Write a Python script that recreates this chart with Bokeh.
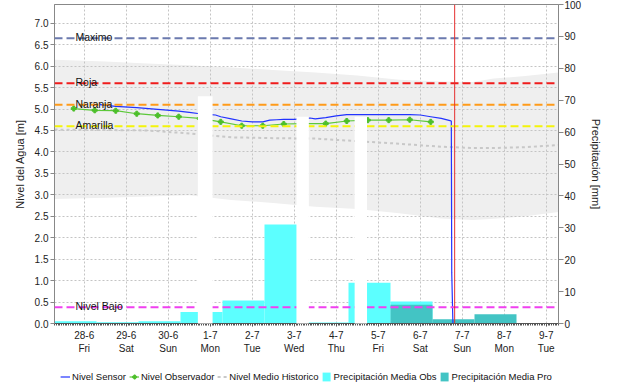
import pandas as pd
from bokeh.plotting import figure
from bokeh.layouts import column
from bokeh.models import (Range1d, LinearAxis, FixedTicker, Span, Label, BoxAnnotation,
                          Legend, LegendItem, ColumnDataSource, NumeralTickFormatter)
from bokeh.embed import file_html
from bokeh.resources import INLINE

FONT = "Liberation Sans"

# ---------------- data ----------------
x_start = "2024-06-27 07:00"
x_end = "2024-07-09 07:00"

day_ticks = ["2024-06-28", "2024-06-29", "2024-06-30", "2024-07-01", "2024-07-02", "2024-07-03",
             "2024-07-04", "2024-07-05", "2024-07-06", "2024-07-07", "2024-07-08", "2024-07-09"]
day_labels = ["28-6\nFri", "29-6\nSat", "30-6\nSun", "1-7\nMon", "2-7\nTue", "3-7\nWed",
              "4-7\nThu", "5-7\nFri", "6-7\nSat", "7-7\nSun", "8-7\nMon", "9-7\nTue"]

level_ticks = [0.0, 0.5, 1.0, 1.5, 2.0, 2.5, 3.0, 3.5, 4.0, 4.5, 5.0, 5.5, 6.0, 6.5, 7.0]
precip_ticks = [0, 10, 20, 30, 40, 50, 60, 70, 80, 90, 100]

sensor_time = ["2024-06-28 09:00", "2024-06-28 18:00", "2024-06-29 06:00", "2024-06-29 18:00",
               "2024-06-30 06:00", "2024-06-30 12:00", "2024-06-30 18:00", "2024-07-01 00:00",
               "2024-07-01 03:00", "2024-07-01 06:00", "2024-07-01 12:00", "2024-07-01 18:00",
               "2024-07-02 00:00", "2024-07-02 06:00", "2024-07-02 10:00", "2024-07-02 14:00",
               "2024-07-02 18:00", "2024-07-03 00:00", "2024-07-03 09:00", "2024-07-03 12:00",
               "2024-07-03 18:00", "2024-07-04 00:00", "2024-07-04 06:00", "2024-07-05 00:00",
               "2024-07-05 18:00", "2024-07-06 00:00", "2024-07-06 06:00", "2024-07-06 12:00",
               "2024-07-06 17:00", "2024-07-06 17:45", "2024-07-06 18:00", "2024-07-06 18:40"]
sensor_level = [5.10, 5.06, 5.03, 4.99, 4.95, 4.92, 4.89, 4.87, 4.86, 4.82, 4.77, 4.72,
                4.70, 4.70, 4.74, 4.75, 4.76, 4.76, 4.79, 4.77, 4.80, 4.84, 4.87, 4.87,
                4.87, 4.86, 4.82, 4.78, 4.73, 4.72, 1.18, 0.00]

obs_time = ["2024-06-27 18:00", "2024-06-28 06:00", "2024-06-28 18:00", "2024-06-29 06:00",
            "2024-06-29 18:00", "2024-06-30 06:00", "2024-06-30 18:00", "2024-07-01 06:00",
            "2024-07-01 18:00", "2024-07-02 06:00", "2024-07-02 18:00", "2024-07-03 06:00",
            "2024-07-03 18:00", "2024-07-04 06:00", "2024-07-04 18:00", "2024-07-05 06:00",
            "2024-07-05 18:00", "2024-07-06 06:00"]
obs_level = [5.01, 4.97, 4.96, 4.89, 4.85, 4.82, 4.78, 4.70, 4.61, 4.61, 4.65, 4.66,
             4.66, 4.72, 4.74, 4.74, 4.75, 4.70]

hist_time = ["2024-06-27 07:00", "2024-06-28 12:00", "2024-06-29 12:00", "2024-06-30 12:00",
             "2024-07-01 12:00", "2024-07-02 12:00", "2024-07-03 12:00", "2024-07-04 12:00",
             "2024-07-05 12:00", "2024-07-06 12:00", "2024-07-07 06:00", "2024-07-07 18:00",
             "2024-07-08 12:00", "2024-07-09 07:00"]
hist_max = [6.15, 6.11, 6.06, 6.02, 5.97, 5.91, 5.85, 5.78, 5.68, 5.64, 5.63, 5.71, 5.77, 5.85]
hist_min = [2.90, 2.93, 2.96, 2.99, 2.88, 2.81, 2.72, 2.67, 2.57, 2.45, 2.41, 2.44, 2.50, 2.60]
hist_mean = [4.52, 4.51, 4.50, 4.43, 4.34, 4.32, 4.31, 4.25, 4.19, 4.12, 4.09, 4.09, 4.11, 4.16]

obs_bin_start = ["2024-06-27 07:00", "2024-06-28 07:00", "2024-06-29 07:00", "2024-06-30 07:00",
                 "2024-07-01 07:00", "2024-07-02 07:00", "2024-07-03 07:00", "2024-07-04 07:00",
                 "2024-07-05 07:00"]
obs_bin_end = ["2024-06-28 07:00", "2024-06-29 07:00", "2024-06-30 07:00", "2024-07-01 07:00",
               "2024-07-02 07:00", "2024-07-03 07:00", "2024-07-04 07:00", "2024-07-05 07:00",
               "2024-07-06 07:00"]
obs_precip = [0.7, 0.4, 0.7, 3.6, 7.2, 31.0, 0.3, 12.8, 6.9]

pro_bin_start = ["2024-07-05 07:00", "2024-07-06 07:00", "2024-07-07 07:00"]
pro_bin_end = ["2024-07-06 07:00", "2024-07-07 07:00", "2024-07-08 07:00"]
pro_precip = [5.9, 1.3, 2.9]

threshold_names = ["Maximo", "Roja", "Naranja", "Amarilla", "Nivel Bajo"]
threshold_levels = [6.65, 5.60, 5.10, 4.60, 0.38]
threshold_colors = ["#6b7aae", "#f01c1c", "#ff9b1a", "#f4f40a", "#f040f0"]

now_time = "2024-07-06 19:40"

gap_start = ["2024-06-30 16:55", "2024-07-03 01:15", "2024-07-04 10:30"]
gap_end = ["2024-07-01 01:20", "2024-07-03 08:20", "2024-07-04 17:35"]
gap_top = [5.30, 4.82, 4.82]

legend_labels = ["Nivel Sensor", "Nivel Observador", "Nivel Medio Historico",
                 "Precipitación Media Obs", "Precipitación Media Pro"]

# styles
C_SENSOR = "#2233ff"
C_OBS = "#5cc83a"
C_OBS_MK = "#4cbf2a"
C_MEAN = "#c8c8c8"
C_POBS = "#5cffff"
C_PPRO = "#43c4c4"


def ms(s):
    return pd.Timestamp(s).value // 10**6


hist_src = ColumnDataSource(dict(t=pd.to_datetime(hist_time), lo=hist_min, hi=hist_max, mean=hist_mean))
obs_src = ColumnDataSource(dict(l=pd.to_datetime(obs_bin_start), r=pd.to_datetime(obs_bin_end), top=obs_precip))
pro_src = ColumnDataSource(dict(l=pd.to_datetime(pro_bin_start), r=pd.to_datetime(pro_bin_end), top=pro_precip))
sen_src = ColumnDataSource(dict(t=pd.to_datetime(sensor_time), v=sensor_level))
obs_lsrc = ColumnDataSource(dict(t=pd.to_datetime(obs_time), v=obs_level))


def draw_series(fig, **kw):
    """Draw the data series on a figure; returns renderers for the legend."""
    r_pobs = fig.quad(left="l", right="r", top="top", bottom=0, source=obs_src,
                      fill_color=C_POBS, line_color=None, **kw)
    r_ppro = fig.quad(left="l", right="r", top="top", bottom=0, source=pro_src,
                      fill_color=C_PPRO, line_color=None, **kw)
    r_mean = fig.line(x="t", y="mean", source=hist_src, line_color=C_MEAN, line_width=2, line_dash="3 3")
    r_sen = fig.line(x="t", y="v", source=sen_src, line_color=C_SENSOR, line_width=1.2)
    r_obsl = fig.line(x="t", y="v", source=obs_lsrc, line_color=C_OBS, line_width=1.2)
    r_obsm = fig.scatter(x="t", y="v", source=obs_lsrc, marker="plus", size=5,
                         fill_color=C_OBS_MK, line_color=C_OBS_MK)
    return r_sen, r_obsl, r_obsm, r_mean, r_pobs, r_ppro


# ---------------- main figure ----------------
p = figure(width=624, height=356, x_axis_type="datetime",
           x_range=Range1d(ms(x_start), ms(x_end)), y_range=Range1d(0, 7.436),
           output_backend="svg", toolbar_location=None,
           min_border_left=54, min_border_right=66, min_border_top=4, min_border_bottom=28,
           background_fill_color="white", border_fill_color="white",
           outline_line_color="#888888")
p.extra_y_ranges = {"precip": Range1d(0, 100)}

p.varea(x="t", y1="lo", y2="hi", source=hist_src, fill_color="#efefef", level="image")

p.xgrid.ticker = FixedTicker(ticks=[ms(d) for d in day_ticks])
p.ygrid.ticker = FixedTicker(ticks=level_ticks)
for g in (p.xgrid, p.ygrid):
    g.grid_line_color = "#c4c4c4"
    g.grid_line_dash = "2 2"
    g.grid_line_width = 1

draw_series(p, y_range_name="precip")

label_time = ms(x_start) + 12 * 3600 * 1000
for name, lvl, col in zip(threshold_names, threshold_levels, threshold_colors):
    p.add_layout(Span(location=lvl, dimension="width", line_color=col, line_width=2, line_dash="8 4"))
    p.add_layout(Label(x=label_time, y=lvl, text=name, y_offset=1, text_font=FONT,
                       text_font_size="10.5px", text_color="#111111", text_baseline="alphabetic"))

p.add_layout(Span(location=ms(now_time), dimension="height", line_color="#e53030", line_width=1))

for gs, ge, gt in zip(gap_start, gap_end, gap_top):
    p.add_layout(BoxAnnotation(left=ms(gs), right=ms(ge), top=gt, bottom=-0.62,
                               fill_color="white", fill_alpha=1.0, line_alpha=0.0, level="overlay"))

xa = p.xaxis[0]
xa.ticker = FixedTicker(ticks=[ms(d) for d in day_ticks],
                        minor_ticks=[ms(t) for t in pd.date_range(x_start, x_end, freq="h")])
xa.major_label_overrides = {ms(d): lab for d, lab in zip(day_ticks, day_labels)}
xa.major_label_text_font = FONT
xa.major_label_text_font_size = "10px"
xa.major_label_text_color = "#222222"
xa.major_tick_out = 3
xa.major_tick_in = 0
xa.minor_tick_out = 2
xa.minor_tick_in = 0
xa.major_label_standoff = 3
xa.axis_line_color = "#555555"
xa.major_tick_line_color = "#555555"
xa.minor_tick_line_color = "#555555"

ya = p.yaxis[0]
ya.ticker = FixedTicker(ticks=level_ticks)
ya.formatter = NumeralTickFormatter(format="0.0")
ya.axis_label = "Nivel del Agua [m]"
ya.minor_tick_line_color = None
ya.major_tick_out = 4
ya.major_tick_in = 0
ya.major_label_standoff = 2

yr = LinearAxis(y_range_name="precip", ticker=FixedTicker(ticks=precip_ticks),
                axis_label="Precipitación [mm]")
yr.minor_tick_line_color = None
yr.major_tick_out = 5
yr.major_tick_in = 0
yr.major_label_standoff = 1
p.add_layout(yr, "right")

for a in (ya, yr):
    a.major_label_text_font = FONT
    a.major_label_text_font_size = "10px"
    a.major_label_text_color = "#222222"
    a.axis_label_text_font = FONT
    a.axis_label_text_font_size = "11px"
    a.axis_label_text_font_style = "normal"
    a.axis_label_text_color = "#222222"
    a.axis_label_standoff = 6
    a.axis_line_color = "#888888"
    a.major_tick_line_color = "#888888"

# ---------------- legend strip (series drawn out of view, only the legend shows) ----------------
lg = figure(width=624, height=27, output_backend="svg", toolbar_location=None,
            x_axis_location=None, y_axis_location=None, min_border=0,
            x_range=Range1d(0, 1), y_range=Range1d(-2, -1), outline_line_color=None,
            background_fill_color="white", border_fill_color="white")
lg.grid.visible = False
g_sen, g_obsl, g_obsm, g_mean, g_pobs, g_ppro = draw_series(lg)

legend = Legend(items=[
    LegendItem(label=legend_labels[0], renderers=[g_sen]),
    LegendItem(label=legend_labels[1], renderers=[g_obsl, g_obsm]),
    LegendItem(label=legend_labels[2], renderers=[g_mean]),
    LegendItem(label=legend_labels[3], renderers=[g_pobs]),
    LegendItem(label=legend_labels[4], renderers=[g_ppro]),
], orientation="horizontal", location="bottom_center", border_line_color=None,
    background_fill_alpha=0.0, label_text_font=FONT, label_text_font_size="9.5px",
    label_text_color="#111111", glyph_width=10, glyph_height=11, label_standoff=2,
    spacing=3, padding=1, margin=1, label_height=11)
lg.add_layout(legend)

layout = column(p, lg, spacing=0)
open("out.html", "w").write(file_html(layout, INLINE))
